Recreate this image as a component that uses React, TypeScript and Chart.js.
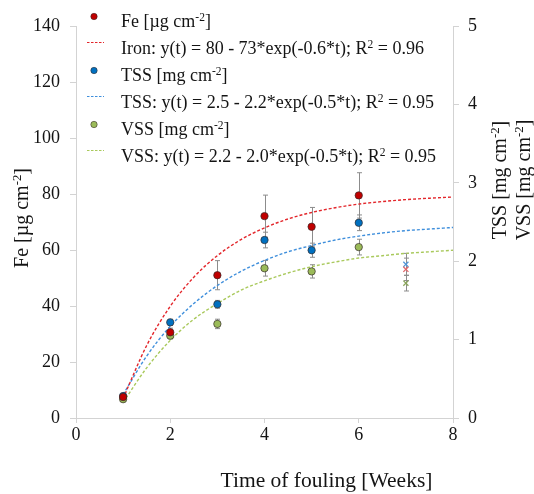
import { useEffect, useRef } from "react";
import { Chart, registerables } from "chart.js";

Chart.register(...registerables);

const SERIF = "'Liberation Serif', 'Times New Roman', serif";
const INK = "#141414";
const AXIS_GRAY = "#d3d3d3";

const FE_RED = "#c00000";
const TSS_BLUE = "#0070c0";
const VSS_GREEN = "#9bbb59";
const FE_FIT = "#e3262b";
const TSS_FIT = "#3f8fdc";
const VSS_FIT = "#a9c95c";

// Measured means and standard deviations, weeks 1–6
const weeks = [1, 2, 3, 4, 5, 6];
const feMean = [7.5, 30.6, 51.0, 72.1, 68.3, 79.5];
const feErr = [0.8, 1.5, 5.2, 7.5, 6.9, 8.1];
const tssMean = [0.28, 1.22, 1.45, 2.27, 2.14, 2.49];
const tssErr = [0.03, 0.04, 0.05, 0.1, 0.09, 0.1];
const vssMean = [0.24, 1.05, 1.2, 1.91, 1.87, 2.18];
const vssErr = [0.03, 0.04, 0.06, 0.1, 0.085, 0.1];

// Week-7 samples, shown as crosses
const excludedWeek = 7;
const feExcluded = 53.1;
const feExcludedErr = 4.0;
const tssExcluded = 1.96;
const tssExcludedErr = 0.14;
const vssExcluded = 1.72;
const vssExcludedErr = 0.1;

// Fitted curves, sampled every half week
const fitWeeks = [1, 1.5, 2, 2.5, 3, 3.5, 4, 4.5, 5, 5.5, 6, 6.5, 7, 7.5, 8];
const ironFit = [7.0, 25.9, 39.9, 50.3, 58.0, 63.7, 67.9, 71.1, 73.4, 75.1, 76.4, 77.3, 78.0, 78.5, 78.9];
const tssFit = [0.3, 0.79, 1.17, 1.46, 1.69, 1.87, 2.01, 2.12, 2.2, 2.27, 2.32, 2.36, 2.39, 2.41, 2.43];
const vssFit = [0.2, 0.64, 0.99, 1.26, 1.46, 1.63, 1.75, 1.85, 1.93, 1.99, 2.04, 2.07, 2.1, 2.12, 2.14];

// Axis ranges
const feAxis = { min: 0, max: 140, step: 20 };
const massAxis = { min: 0, max: 5, step: 1 };
const weekAxis = { min: 0, max: 8, step: 2 };

type Rich = Array<[string, boolean]>; // [text, isSuperscript]

const feLabel: Rich = [["Fe [µg cm", false], ["-2", true], ["]", false]];
const tssLabel: Rich = [["TSS [mg cm", false], ["-2", true], ["]", false]];
const vssLabel: Rich = [["VSS [mg cm", false], ["-2", true], ["]", false]];
const ironFitLabel: Rich = [["Iron: y(t) = 80 - 73*exp(-0.6*t); R", false], ["2", true], [" = 0.96", false]];
const tssFitLabel: Rich = [["TSS: y(t) = 2.5 - 2.2*exp(-0.5*t); R", false], ["2", true], [" = 0.95", false]];
const vssFitLabel: Rich = [["VSS: y(t) = 2.2 - 2.0*exp(-0.5*t); R", false], ["2", true], [" = 0.95", false]];
const weekTitle: Rich = [["Time of fouling [Weeks]", false]];

const legendRows: Array<{ kind: "dot" | "dash"; color: string; label: Rich }> = [
  { kind: "dot", color: FE_RED, label: feLabel },
  { kind: "dash", color: FE_FIT, label: ironFitLabel },
  { kind: "dot", color: TSS_BLUE, label: tssLabel },
  { kind: "dash", color: TSS_FIT, label: tssFitLabel },
  { kind: "dot", color: VSS_GREEN, label: vssLabel },
  { kind: "dash", color: VSS_FIT, label: vssFitLabel },
];

function setFont(ctx: CanvasRenderingContext2D, size: number) {
  ctx.font = `${size}px ${SERIF}`;
}

function richWidth(ctx: CanvasRenderingContext2D, parts: Rich, size: number) {
  let w = 0;
  for (const [t, sup] of parts) {
    setFont(ctx, sup ? size * 0.64 : size);
    w += ctx.measureText(t).width;
  }
  return w;
}

function drawRich(ctx: CanvasRenderingContext2D, parts: Rich, x: number, y: number, size: number) {
  ctx.textAlign = "left";
  ctx.textBaseline = "alphabetic";
  let cx = x;
  for (const [t, sup] of parts) {
    setFont(ctx, sup ? size * 0.64 : size);
    ctx.fillText(t, cx, sup ? y - size * 0.36 : y);
    cx += ctx.measureText(t).width;
  }
}

function pointSeries(means: number[], extra: number) {
  return [...weeks.map((w, i) => ({ x: w, y: means[i] })), { x: excludedWeek, y: extra }];
}

function curve(values: number[]) {
  return fitWeeks.map((w, i) => ({ x: w, y: values[i] }));
}

const markerStyles = (fill: string, crossColor: string) => ({
  pointStyle: [...weeks.map(() => "circle"), "crossRot"],
  pointRadius: [...weeks.map(() => 3.7), 3.6],
  backgroundColor: [...weeks.map(() => fill), "rgba(0,0,0,0)"],
  borderColor: [...weeks.map(() => "rgba(50,40,40,0.85)"), crossColor],
  borderWidth: [...weeks.map(() => 0.8), 1.3],
  showLine: false,
});

export default function App() {
  const canvasRef = useRef<HTMLCanvasElement | null>(null);

  useEffect(() => {
    const canvas = canvasRef.current;
    if (!canvas) return;

    // standard deviations keyed by dataset index
    const errorTable: Record<number, number[]> = {
      3: [...feErr, feExcludedErr],
      4: [...tssErr, tssExcludedErr],
      5: [...vssErr, vssExcludedErr],
    };

    const errorBars = {
      id: "errorBars",
      beforeDatasetsDraw(chart: any) {
        const ctx: CanvasRenderingContext2D = chart.ctx;
        ctx.save();
        ctx.strokeStyle = "#8c8c8c";
        ctx.lineWidth = 1;
        for (const key of Object.keys(errorTable)) {
          const di = Number(key);
          const meta = chart.getDatasetMeta(di);
          const scale = chart.scales[meta.yAxisID];
          const data = chart.data.datasets[di].data as Array<{ x: number; y: number }>;
          meta.data.forEach((el: any, i: number) => {
            const e = errorTable[di][i];
            const x = Math.round(el.x) + 0.5;
            const yTop = scale.getPixelForValue(data[i].y + e);
            const yBot = scale.getPixelForValue(data[i].y - e);
            ctx.beginPath();
            ctx.moveTo(x, yTop);
            ctx.lineTo(x, yBot);
            ctx.moveTo(x - 2.5, yTop);
            ctx.lineTo(x + 2.5, yTop);
            ctx.moveTo(x - 2.5, yBot);
            ctx.lineTo(x + 2.5, yBot);
            ctx.stroke();
          });
        }
        ctx.restore();
      },
    };

    const decorations = {
      id: "decorations",
      afterDraw(chart: any) {
        const ctx: CanvasRenderingContext2D = chart.ctx;
        ctx.save();
        ctx.fillStyle = INK;

        // legend in the upper part of the plot
        const textX = 121;
        legendRows.forEach((row, i) => {
          const base = 27 + i * 27;
          const my = base - 9.5;
          if (row.kind === "dot") {
            ctx.beginPath();
            ctx.arc(94, my - 1, 3.2, 0, Math.PI * 2);
            ctx.fillStyle = row.color;
            ctx.fill();
            ctx.strokeStyle = "rgba(50,40,40,0.8)";
            ctx.lineWidth = 0.7;
            ctx.stroke();
          } else {
            const ly = Math.round(my - 3) + 0.5;
            ctx.beginPath();
            ctx.setLineDash([2.5, 1.5]);
            ctx.strokeStyle = row.color;
            ctx.lineWidth = 1;
            ctx.moveTo(87, ly);
            ctx.lineTo(104, ly);
            ctx.stroke();
            ctx.setLineDash([]);
          }
          ctx.fillStyle = INK;
          drawRich(ctx, row.label, textX, base, 18);
        });

        // axis titles
        const area = chart.chartArea;
        const titleSize = 20;

        ctx.save();
        ctx.translate(28, (area.top + area.bottom) / 2 - 4);
        ctx.rotate(-Math.PI / 2);
        drawRich(ctx, feLabel, -richWidth(ctx, feLabel, titleSize) / 2, 0, titleSize);
        ctx.restore();

        ctx.save();
        ctx.translate(506, 180);
        ctx.rotate(-Math.PI / 2);
        drawRich(ctx, tssLabel, -richWidth(ctx, tssLabel, titleSize) / 2, 0, titleSize);
        ctx.restore();

        ctx.save();
        ctx.translate(530, 180);
        ctx.rotate(-Math.PI / 2);
        drawRich(ctx, vssLabel, -richWidth(ctx, vssLabel, titleSize) / 2, 0, titleSize);
        ctx.restore();

        const xSize = 21.5;
        const xw = richWidth(ctx, weekTitle, xSize);
        drawRich(ctx, weekTitle, 326.5 - xw / 2, 487, xSize);

        ctx.restore();
      },
    };

    const fitStyle = (color: string, axis: string) => ({
      showLine: true,
      borderColor: color,
      borderWidth: 1.4,
      borderDash: [3, 2],
      pointRadius: 0,
      pointHoverRadius: 0,
      fill: false,
      cubicInterpolationMode: "monotone" as const,
      yAxisID: axis,
      order: 2,
    });

    const chart = new Chart(canvas, {
      type: "scatter",
      data: {
        datasets: [
          { label: "Iron fit", data: curve(ironFit), ...fitStyle(FE_FIT, "y") },
          { label: "TSS fit", data: curve(tssFit), ...fitStyle(TSS_FIT, "y1") },
          { label: "VSS fit", data: curve(vssFit), ...fitStyle(VSS_FIT, "y1") },
          { label: "Fe", data: pointSeries(feMean, feExcluded), yAxisID: "y", order: 1, ...markerStyles(FE_RED, "#e0676b") },
          { label: "TSS", data: pointSeries(tssMean, tssExcluded), yAxisID: "y1", order: 1, ...markerStyles(TSS_BLUE, "#4f95d8") },
          { label: "VSS", data: pointSeries(vssMean, vssExcluded), yAxisID: "y1", order: 1, ...markerStyles(VSS_GREEN, "#8aa55a") },
        ] as any,
      },
      options: {
        animation: false,
        responsive: false,
        maintainAspectRatio: false,
        layout: { padding: { top: 26, left: 0, right: 0, bottom: 0 } },
        plugins: {
          legend: { display: false },
          tooltip: { enabled: false },
          title: { display: false },
        },
        scales: {
          x: {
            type: "linear",
            min: weekAxis.min,
            max: weekAxis.max,
            ticks: { stepSize: weekAxis.step, color: INK, font: { family: SERIF, size: 18 }, padding: 1, maxRotation: 0 },
            grid: { display: true, drawOnChartArea: false, drawTicks: true, tickLength: 5, color: AXIS_GRAY },
            border: { display: true, color: AXIS_GRAY },
            afterFit: (s: any) => { s.height = 76; },
          },
          y: {
            type: "linear",
            position: "left",
            min: feAxis.min,
            max: feAxis.max,
            ticks: { stepSize: feAxis.step, color: INK, font: { family: SERIF, size: 18 }, padding: 10 },
            grid: { display: true, drawOnChartArea: false, drawTicks: true, tickLength: 6, color: AXIS_GRAY },
            border: { display: true, color: AXIS_GRAY },
            afterFit: (s: any) => { s.width = 76; },
          },
          y1: {
            type: "linear",
            position: "right",
            min: massAxis.min,
            max: massAxis.max,
            ticks: { stepSize: massAxis.step, color: INK, font: { family: SERIF, size: 18 }, padding: 9 },
            grid: { display: true, drawOnChartArea: false, drawTicks: true, tickLength: 6, color: AXIS_GRAY },
            border: { display: true, color: AXIS_GRAY },
            afterFit: (s: any) => { s.width = 81; },
          },
        },
      } as any,
      plugins: [errorBars, decorations],
    });

    return () => chart.destroy();
  }, []);

  return (
    <div style={{ position: "fixed", left: 0, top: 0, width: 534, height: 494, background: "#ffffff" }}>
      <canvas ref={canvasRef} width={534} height={494} style={{ display: "block", width: 534, height: 494 }} />
    </div>
  );
}
